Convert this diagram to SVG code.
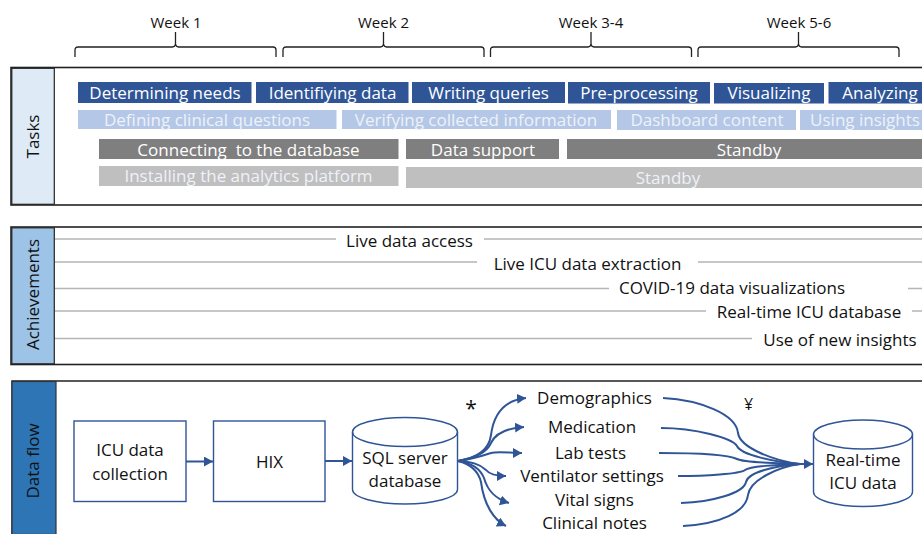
<svg xmlns="http://www.w3.org/2000/svg" width="922" height="534" viewBox="0 0 922 534">
<style>
text{font-family:"Open Sans","Noto Sans","Liberation Sans",sans-serif;font-size:17px;fill:#111;text-anchor:middle;white-space:pre}
text.w{fill:#fff}
text.l{fill:#eef2f8}
text.wk{font-size:15px}
text.v{font-size:17px}
.db{fill:#2f5597}.lb{fill:#b4c7e7}.dg{fill:#7f7f7f}.lg{fill:#bfbfbf}
.panel{fill:#fff;stroke:#222;stroke-width:1.600}
.brace{fill:none;stroke:#222;stroke-width:1.300}
.rule{stroke:#b5b5b5;stroke-width:1.300;fill:none}
.box{fill:#fff;stroke:#2f5597;stroke-width:1.400}
.flow{fill:none;stroke:#2f5597;stroke-width:2}
</style>
<defs>
<marker id="arr" markerUnits="userSpaceOnUse" markerWidth="12" markerHeight="12" refX="9" refY="5" orient="auto"><path d="M0 0L9 5L0 10Z" fill="#2f5597"/></marker>
<path id="b" d="M0 10V3Q0 0 3 0H97.500Q100 0 100.500 -3V-15V-3Q101 0 103.500 0H198Q201 0 201 3V10"/>
</defs>
<g id="weeks">
<text class="wk" x="176" y="27.500">Week 1</text>
<text class="wk" x="383.500" y="27.500">Week 2</text>
<text class="wk" x="591" y="27.500">Week 3-4</text>
<text class="wk" x="799" y="27.500">Week 5-6</text>
<use href="#b" class="brace" x="75" y="47"/>
<use href="#b" class="brace" x="283" y="47"/>
<use href="#b" class="brace" x="490.500" y="47"/>
<use href="#b" class="brace" x="698" y="47"/>
</g>
<g id="tasks">
<rect class="panel" x="11" y="67.500" width="920" height="137.500"/>
<rect x="11.800" y="68.300" width="42.500" height="136" fill="#deebf7" stroke="#222" stroke-width="1.200"/>
<text class="v" transform="translate(39 136.500) rotate(-90)">Tasks</text>
<rect class="db" x="78" y="82" width="173.500" height="21"/><text class="w" x="165" y="98.500">Determining needs</text>
<rect class="db" x="256" y="82" width="152.500" height="21"/><text class="w" x="332.500" y="98.500">Identifiying data</text>
<rect class="db" x="412" y="82" width="153" height="21"/><text class="w" x="488.500" y="98.500">Writing queries</text>
<rect class="db" x="568" y="82" width="142" height="21.500"/><text class="w" x="639" y="98.500">Pre-processing</text>
<rect class="db" x="714" y="83" width="110" height="20.500"/><text class="w" x="769" y="99">Visualizing</text>
<rect class="db" x="828.500" y="82" width="93.500" height="21.500"/><text class="w" x="880" y="98.500">Analyzing</text>
<rect class="lb" x="78" y="110" width="258.500" height="19"/><text class="l" x="207" y="126">Defining clinical questions</text>
<rect class="lb" x="342" y="110" width="269" height="19"/><text class="l" x="476" y="126">Verifying collected information</text>
<rect class="lb" x="617" y="110" width="179" height="20"/><text class="l" x="707" y="126">Dashboard content</text>
<rect class="lb" x="800" y="110" width="122" height="20"/><text class="l" x="865" y="126">Using insights</text>
<rect class="dg" x="99" y="139" width="299.500" height="20"/><text class="w" x="248.500" y="155.500">Connecting  to the database</text>
<rect class="dg" x="406" y="139" width="153" height="20"/><text class="w" x="483" y="155.500">Data support</text>
<rect class="dg" x="567" y="139" width="355" height="20"/><text class="w" x="749" y="155.500">Standby</text>
<rect class="lg" x="99" y="166" width="299.500" height="20"/><text class="l" x="248.500" y="182">Installing the analytics platform</text>
<rect class="lg" x="406" y="167" width="516" height="21"/><text class="l" x="668" y="183.500">Standby</text>
</g>
<g id="achievements">
<rect class="panel" x="11" y="227" width="920" height="137.500"/>
<rect x="11.800" y="227.800" width="42.500" height="136" fill="#9dc3e6" stroke="#222" stroke-width="1.200"/>
<text class="v" transform="translate(39 294.500) rotate(-90)">Achievements</text>
<path class="rule" d="M55 239H336M484 239H922M55 262H477M698 262H922M55 288.500H609M908 288.500H922M55 311H706M912 311H922M55 338.500H752"/>
<text x="409.500" y="247">Live data access</text>
<text x="587.500" y="270">Live ICU data extraction</text>
<text x="732" y="294">COVID-19 data visualizations</text>
<text x="809" y="318">Real-time ICU database</text>
<text x="840" y="345.500">Use of new insights</text>
</g>
<g id="dataflow">
<path d="M922 381H12V534" fill="none" stroke="#222" stroke-width="1.400"/>
<rect x="12" y="381.500" width="44" height="153" fill="#2e75b6" stroke="#333" stroke-width="1.200"/>
<text class="v" transform="translate(39 461) rotate(-90)">Data flow</text>
</g>
<g id="n-icu"><rect class="box" x="74" y="421" width="112" height="80.500"/><text x="130" y="456">ICU data</text><text x="130" y="479.500">collection</text></g>
<g id="n-hix"><rect class="box" x="213.500" y="421" width="111.500" height="80.500"/><text x="269.500" y="467.500">HIX</text></g>
<g id="n-sql"><path class="box" d="M352.500 432C352.500 424 376 417.500 405 417.500S457.500 424 457.500 432V489.500C457.500 497.500 434 504 405 504S352.500 497.500 352.500 489.500Z"/><path class="box" style="fill:none" d="M352.500 432C352.500 440 376 446.500 405 446.500S457.500 440 457.500 432"/><text x="405" y="463.500">SQL server</text><text x="405" y="486.500">database</text></g>
<g id="n-rt"><path class="box" d="M813.500 434.500C813.500 426.500 836 420 863 420S912.500 426.500 912.500 434.500V492C912.500 500 890 506.500 863 506.500S813.500 500 813.500 492Z"/><path class="box" style="fill:none" d="M813.500 434.500C813.500 442.500 836 449 863 449S912.500 442.500 912.500 434.500"/><text x="863" y="465.500">Real-time</text><text x="863" y="489">ICU data</text></g>
<g id="n-demo"><text x="594.500" y="404">Demographics</text></g>
<g id="n-med"><text x="592" y="433">Medication</text></g>
<g id="n-lab"><text x="590.500" y="459">Lab tests</text></g>
<g id="n-vent"><text x="592" y="482">Ventilator settings</text></g>
<g id="n-vital"><text x="594.500" y="505.500">Vital signs</text></g>
<g id="n-notes"><text x="594.500" y="529">Clinical notes</text></g>
<g id="marks"><text x="471" y="416" style="font-size:21px">*</text><text x="748.500" y="410" style="font-size:16px">¥</text></g>
<g id="connectors">
<path class="flow" marker-end="url(#arr)" d="M186 461.500H213"/>
<path class="flow" marker-end="url(#arr)" d="M325 461H352"/>
<path class="flow" marker-end="url(#arr)" d="M458 461C478 458 489 450 491 435C494 412 506 400 526 398"/>
<path class="flow" marker-end="url(#arr)" d="M458 461C475 458 487 452 491 443C496 432 508 428 524 427"/>
<path class="flow" marker-end="url(#arr)" d="M458 461C472 459 482 456 491 453C498 451 510 453 522 453"/>
<path class="flow" marker-end="url(#arr)" d="M458 461C472 462 480 464 486 470C490 475 497 476 506 476"/>
<path class="flow" marker-end="url(#arr)" d="M458 461C472 463 480 468 484 478C488 492 496 499 509 503"/>
<path class="flow" marker-end="url(#arr)" d="M458 461C470 464 478 470 481 482C484 505 494 520 506 526"/>
<path class="flow" d="M663 398C700 400 736 414 738 433C740 448 775 461 800 464"/>
<path class="flow" d="M661 428C695 428 732 438 737 446C741 455 775 462 800 464"/>
<path class="flow" d="M659 453C690 453 727 454 737 459C745 463 775 463 800 464"/>
<path class="flow" d="M678 476C705 476 740 474 745 470C750 466 775 465 800 464"/>
<path class="flow" d="M681 503C712 502 744 493 746 482C748 472 775 466 800 464"/>
<path class="flow" d="M683 526C720 524 746 512 748 495C750 480 778 467 800 464"/>
<path class="flow" marker-end="url(#arr)" d="M795 464H813"/>
</g>
</svg>
